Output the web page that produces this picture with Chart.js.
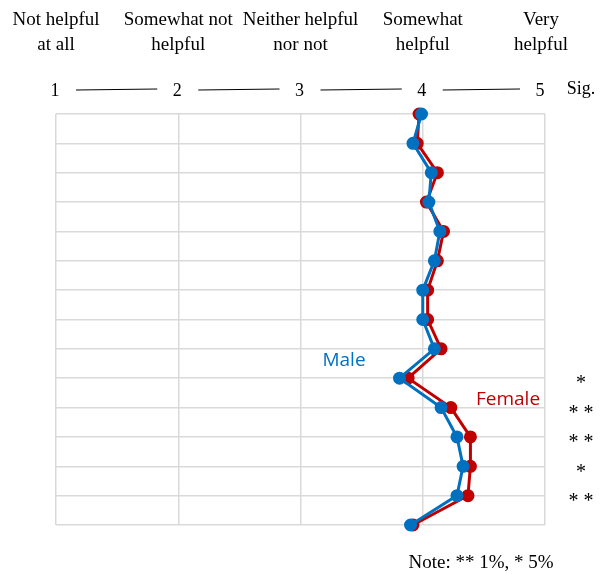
<!DOCTYPE html>
<html>
<head>
<meta charset="utf-8">
<script src="https://cdn.jsdelivr.net/npm/chart.js@4"></script>
<style>
  body { margin: 0; background: #fff; }
  canvas { display: block; }
</style>
</head>
<body>
<canvas id="chart" width="602" height="574"></canvas>
<script>
// Scale anchors and their wording
const scaleValues = [1, 2, 3, 4, 5];
const scaleLabels = [
    ['Not helpful', 'at all'],
    ['Somewhat not', 'helpful'],
    ['Neither helpful', 'nor not'],
    ['Somewhat', 'helpful'],
    ['Very', 'helpful']
];

// One mean per item, top to bottom
const maleValues = [3.99, 3.92, 4.07, 4.05, 4.14, 4.095, 4.0, 4.0, 4.095, 3.81, 4.15, 4.28, 4.33, 4.28, 3.90];
const femaleValues = [3.97, 3.955, 4.12, 4.03, 4.17, 4.12, 4.04, 4.04, 4.15, 3.88, 4.23, 4.39, 4.39, 4.37, 3.92];

// Significance marks per item ('' = none)
const sigMarks = ['', '', '', '', '', '', '', '', '', '*', '**', '**', '*', '**', ''];

const blue = '#0070C0';
const red = '#C00000';

function toPoints(values) {
    return values.map((v, i) => ({ x: v, y: i }));
}

// Draws the header labels, numbers, significance column and series names
const textPlugin = {
    id: 'textPlugin',
    afterDraw(chart) {
        const ctx = chart.ctx;
        const xs = chart.scales.x;
        const ys = chart.scales.y;
        ctx.save();
        ctx.fillStyle = '#000';
        ctx.textAlign = 'center';
        ctx.textBaseline = 'middle';

        const numberX = [];
        scaleValues.forEach((v, i) => {
            let x = xs.getPixelForValue(v);
            if (i === scaleValues.length - 1) x -= 4;
            ctx.font = '19px "Liberation Serif", "Times New Roman", serif';
            ctx.fillText(scaleLabels[i][0], x, 20);
            ctx.fillText(scaleLabels[i][1], x, 45);
            const nx = xs.getPixelForValue(v) - 1 - (i === scaleValues.length - 1 ? 4 : 0);
            numberX.push(nx);
            ctx.font = '18px "Liberation Serif", "Times New Roman", serif';
            ctx.fillText(String(v), nx, 91);
        });

        // connecting lines between numbers
        ctx.strokeStyle = '#000';
        ctx.lineWidth = 1;
        for (let i = 0; i < numberX.length - 1; i++) {
            ctx.beginPath();
            ctx.moveTo(numberX[i] + 21, 90);
            ctx.lineTo(numberX[i + 1] - 20, 89);
            ctx.stroke();
        }

        ctx.font = '18px "Liberation Serif", "Times New Roman", serif';
        ctx.fillText('Sig.', 581, 89);

        ctx.font = '20px "Liberation Serif", "Times New Roman", serif';
        sigMarks.forEach((m, i) => {
            if (m) ctx.fillText(m.split('').join(' '), 581, ys.getPixelForValue(i) + 6);
        });

        ctx.font = '19px "Open Sans", "Liberation Sans", sans-serif';
        ctx.fillStyle = blue;
        ctx.fillText('Male', 344, 361);
        ctx.fillStyle = red;
        ctx.fillText('Female', 508, 400);

        ctx.fillStyle = '#000';
        ctx.font = '19px "Liberation Serif", "Times New Roman", serif';
        ctx.fillText('Note: ** 1%, * 5%', 481, 563);
        ctx.restore();
    }
};

new Chart(document.getElementById('chart'), {
    type: 'scatter',
    data: {
        datasets: [
            {
                label: 'Male',
                data: toPoints(maleValues),
                showLine: true,
                clip: false,
                borderColor: blue,
                backgroundColor: blue,
                borderWidth: 3,
                pointRadius: 5,
                pointHoverRadius: 5
            },
            {
                label: 'Female',
                data: toPoints(femaleValues),
                showLine: true,
                clip: false,
                borderColor: red,
                backgroundColor: red,
                borderWidth: 3,
                pointRadius: 5,
                pointHoverRadius: 5
            }
        ]
    },
    options: {
        responsive: false,
        animation: false,
        layout: { padding: { left: 56, right: 57, top: 114, bottom: 49 } },
        plugins: {
            legend: { display: false },
            tooltip: { enabled: false }
        },
        scales: {
            x: {
                type: 'linear',
                min: 1,
                max: 5,
                ticks: { display: false, stepSize: 1 },
                grid: { color: '#d9d9d9', lineWidth: 1.5, drawTicks: false },
                border: { display: false }
            },
            y: {
                type: 'linear',
                reverse: true,
                min: 0,
                max: 14,
                ticks: { display: false, stepSize: 1 },
                grid: { color: '#d9d9d9', lineWidth: 1.5, drawTicks: false },
                border: { display: false }
            }
        }
    },
    plugins: [textPlugin]
});
</script>
</body>
</html>
